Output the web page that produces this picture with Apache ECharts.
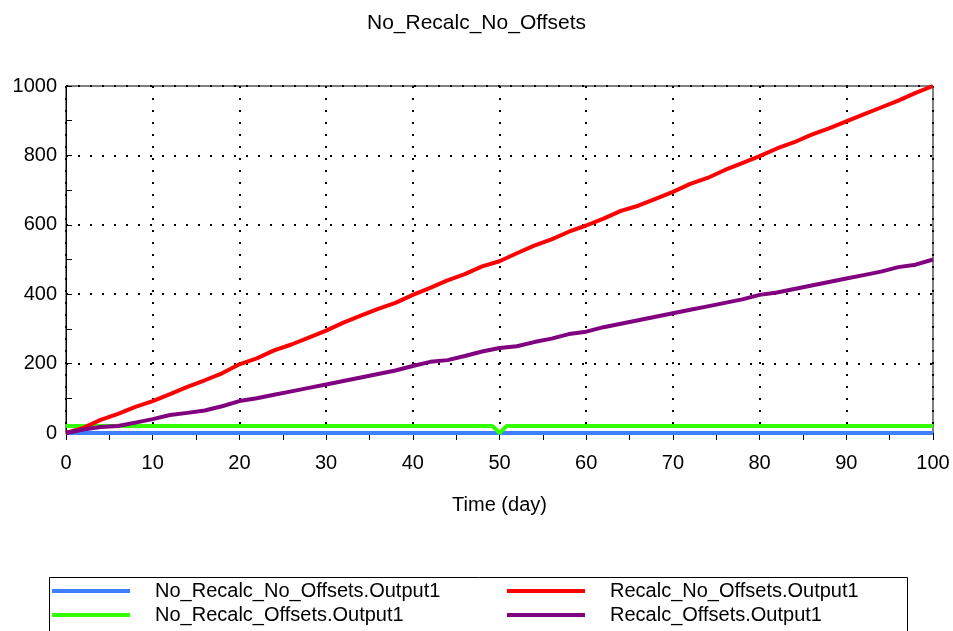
<!DOCTYPE html>
<html>
<head>
<meta charset="utf-8">
<script src="https://cdn.jsdelivr.net/npm/echarts@6/dist/echarts.min.js"></script>
<style>html,body{margin:0;padding:0;background:#fff}#c{width:953px;height:631px}</style>
</head>
<body>
<div id="c"></div>
<script>
const titleText = 'No_Recalc_No_Offsets';
const xName = 'Time (day)';
const seriesNames = ['No_Recalc_No_Offsets.Output1','No_Recalc_Offsets.Output1','Recalc_No_Offsets.Output1','Recalc_Offsets.Output1'];
const seriesColors = ['#3f7fff','#33ff00','#ff0000','#800080'];

const tDays = [0,2,4,6,8,10,12,14,16,18,20,22,24,26,28,30,32,34,36,38,40,42,44,46,48,50,52,54,56,58,60,62,64,66,68,70,72,74,76,78,80,82,84,86,88,90,92,94,96,98,100];
const redVals = [0,15,38,55,75,92,112,133,152,172,198,215,238,255,275,295,318,338,358,375,398,418,440,458,480,495,518,540,558,580,598,618,640,655,675,695,718,735,758,778,798,820,838,860,878,898,918,938,958,980,1000];
const purpleVals = [0,10,17,20,30,40,52,58,65,77,92,100,110,120,130,140,150,160,170,180,193,205,210,222,235,245,250,262,272,285,292,305,315,325,335,345,355,365,375,385,398,405,415,425,435,445,455,465,478,485,500];
const blueT = [0,100];
const blueVals = [0,0];
const greenT = [0,49.2,50,50.8,100];
const greenVals = [20,20,0,20,20];

function pairs(xs, ys){ return xs.map((x,i)=>[x, ys[i]]); }

const chart = echarts.init(document.getElementById('c'));
const fontFam = 'Arial, "Liberation Sans", sans-serif';
const mkSeries = (i, data) => ({
  name: seriesNames[i], type: 'line', data: data, showSymbol: false, symbol: 'none',
  clip: false, lineStyle: {width: 4, color: seriesColors[i]}, itemStyle: {color: seriesColors[i]},
  animation: false
});
const legendCommon = {orient: 'vertical', top: 581, height: 60, padding: 0, itemGap: 4,
  icon: 'rect', itemWidth: 78, itemHeight: 4,
  textStyle: {fontFamily: fontFam, fontSize: 20, color: '#000', padding: [0,0,0,20]}};
chart.setOption({
  animation: false,
  title: {text: titleText, left: 'center', top: 8, textStyle: {fontFamily: fontFam, fontSize: 21, fontWeight: 'normal', color: '#000'}},
  grid: {left: 66, right: 20, top: 86, bottom: 198, show: true, borderColor: '#000', borderWidth: 1, backgroundColor: 'transparent'},
  xAxis: {
    type: 'value', min: 0, max: 100, interval: 10,
    name: xName, nameLocation: 'middle', nameGap: 62,
    nameTextStyle: {fontFamily: fontFam, fontSize: 20, color: '#000'},
    axisLine: {lineStyle: {color: '#000', width: 1}},
    axisTick: {show: true, length: 7, lineStyle: {color: '#000'}},
    minorTick: {show: true, splitNumber: 2, length: 7, lineStyle: {color: '#000'}},
    axisLabel: {fontFamily: fontFam, fontSize: 20, color: '#000', margin: 20},
    splitLine: {show: true, lineStyle: {color: '#000', width: 2, type: [2, 10]}}
  },
  yAxis: {
    type: 'value', min: 0, max: 1000, interval: 200,
    axisLine: {show: true, lineStyle: {color: '#000', width: 1}},
    axisTick: {show: true, inside: true, length: 6, lineStyle: {color: '#000'}},
    minorTick: {show: true, splitNumber: 2, length: 6, lineStyle: {color: '#000'}},
    axisLabel: {fontFamily: fontFam, fontSize: 20, color: '#000', margin: 9, formatter: v => String(v)},
    splitLine: {show: true, lineStyle: {color: '#000', width: 2, type: [2, 10]}}
  },
  legend: [
    Object.assign({data: [seriesNames[0], seriesNames[1]], left: 52}, legendCommon),
    Object.assign({data: [seriesNames[2], seriesNames[3]], left: 507}, legendCommon)
  ],
  graphic: [{type: 'rect', left: 47, top: 575, shape: {width: 858, height: 70},
    style: {fill: 'none', stroke: '#000', lineWidth: 1}, z: -1}],
  series: [
    mkSeries(0, pairs(blueT, blueVals)),
    mkSeries(1, pairs(greenT, greenVals)),
    mkSeries(2, pairs(tDays, redVals)),
    mkSeries(3, pairs(tDays, purpleVals))
  ]
});
</script>
</body>
</html>
